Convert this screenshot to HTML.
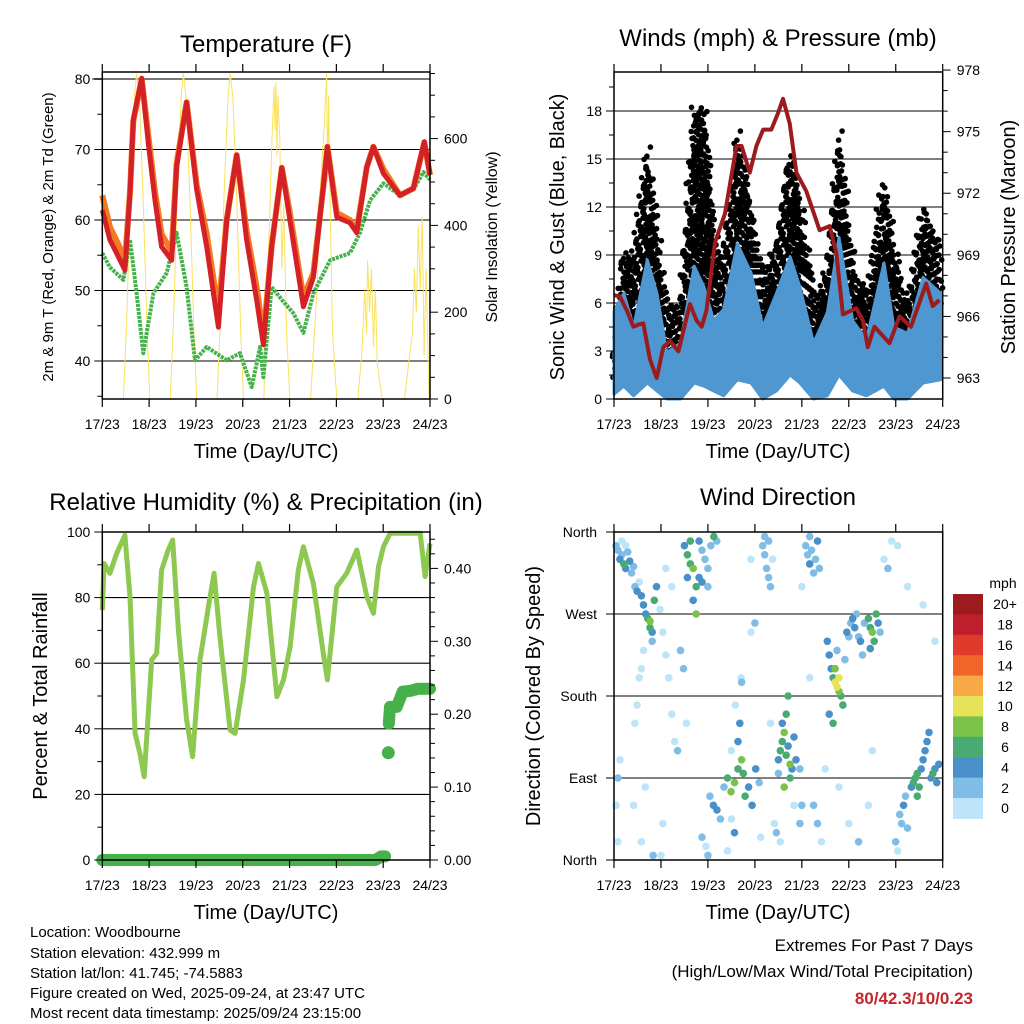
<!DOCTYPE html>
<html><head><meta charset="utf-8"><style>
html,body{margin:0;padding:0;background:#fff;}
svg{display:block;font-family:"Liberation Sans",Arial,sans-serif;}
</style></head><body>
<svg id="chart" width="1024" height="1024" viewBox="0 0 1024 1024" xmlns="http://www.w3.org/2000/svg">
<rect x="0" y="0" width="1024" height="1024" fill="#fff"/>
<text x="266" y="52" font-size="24" text-anchor="middle">Temperature (F)</text>
<text x="778" y="46" font-size="24" text-anchor="middle">Winds (mph) &amp; Pressure (mb)</text>
<text x="266" y="510" font-size="24" text-anchor="middle">Relative Humidity (%) &amp; Precipitation (in)</text>
<text x="778" y="505" font-size="24" text-anchor="middle">Wind Direction</text>
<text x="266" y="458" font-size="20" text-anchor="middle">Time (Day/UTC)</text>
<text x="778" y="458" font-size="20" text-anchor="middle">Time (Day/UTC)</text>
<text x="266" y="919" font-size="20" text-anchor="middle">Time (Day/UTC)</text>
<text x="778" y="919" font-size="20" text-anchor="middle">Time (Day/UTC)</text>
<text transform="translate(53,237) rotate(-90)" font-size="15" text-anchor="middle">2m &amp; 9m T (Red, Orange) &amp; 2m Td (Green)</text>
<text transform="translate(497,237) rotate(-90)" font-size="16" text-anchor="middle">Solar Insolation (Yellow)</text>
<text transform="translate(564,237) rotate(-90)" font-size="20" text-anchor="middle">Sonic Wind &amp; Gust (Blue, Black)</text>
<text transform="translate(1015,237) rotate(-90)" font-size="20" text-anchor="middle">Station Pressure (Maroon)</text>
<text transform="translate(47,696) rotate(-90)" font-size="20" text-anchor="middle">Percent &amp; Total Rainfall</text>
<text transform="translate(540,696) rotate(-90)" font-size="20" text-anchor="middle">Direction (Colored By Speed)</text>
<g font-size="15">
<text x="30" y="937">Location: Woodbourne</text>
<text x="30" y="958">Station elevation: 432.999 m</text>
<text x="30" y="978">Station lat/lon: 41.745; -74.5883</text>
<text x="30" y="998">Figure created on Wed, 2025-09-24, at 23:47 UTC</text>
<text x="30" y="1018">Most recent data timestamp: 2025/09/24 23:15:00</text>
</g>
<text x="973" y="951" font-size="17" text-anchor="end">Extremes For Past 7 Days</text>
<text x="973" y="977" font-size="17" text-anchor="end">(High/Low/Max Wind/Total Precipitation)</text>
<text x="973" y="1004" font-size="17" font-weight="bold" fill="#c1272d" text-anchor="end">80/42.3/10/0.23</text>
</svg>
<script>
// ---------- DATA ----------
const dayLabels = ['17/23','18/23','19/23','20/23','21/23','22/23','23/23','24/23'];
const tempHours = [0,3.9,9.1,11.6,14.2,15.9,20.2,23.6,27,30.4,35.6,38.1,43.2,48.4,53.5,59.5,63.8,68.9,74,79.1,82.6,86.8,92,96.2,103.1,108.2,113.3,115.4,120.2,127,130.4,135.6,139,144.1,152.6,159.5,165.1,168];
const temp2m = [61.4,57.2,54.3,52.9,63.8,74.2,80.1,70.9,62.8,56.2,54.3,67.5,76.7,64.3,56.2,44.8,60,69.2,57.2,48.7,42.3,56.2,67.4,60,47.7,51.9,64.7,70.4,60.4,59.6,58.2,67.5,70.4,66.6,63.5,64.5,71.1,66.4];
const temp9m = [63.5,59,56,54,64,74,80,72,64,58,55.5,68,76.7,65,58,47,60,69.2,58.5,50.5,43.5,56.2,67.4,61,49,52.5,64.7,70.4,61,60,58.5,67.5,70.4,67.2,63.5,64.5,71,66.4];
const dewHours = [0,3.9,10.8,14.2,17.6,21,26.2,33,38.1,43.2,47.5,53.5,63.8,70.6,76.6,80.9,82.6,86.8,92,97.9,103.1,108.2,116.8,127,132.1,137.3,144.1,152.6,159.5,164.6,168];
const dewpt = [55.3,53.3,51.5,57.2,49.6,41.1,49.6,52.5,58.2,50.5,40.1,42,40.1,41.1,36.3,42,37.7,50.5,48.7,46.8,44,49.6,54.3,55.3,58.2,62.8,65.2,63.5,64.3,66.8,65.7];
const solarHours = [10.8,12.5,14.5,16.5,17.6,19,21,23,24.4, 34.8,36.5,38.5,40.5,41.6,43,45,47,48.4, 58.8,60.5,62.5,64.5,65.6,67,69,71,72.4, 82.8,85,87,88,88.5,89,89.5,90,91,92,93,94.5,96.2, 106.8,110,112,114,115,115.5,116,117,118,120.2, 131,133,134.5,135.5,136,137,138,139,140,141,143.5, 155,157,159,160,161,162,163,164,165,166,167.5];
const solar = [0,180,480,700,750,690,450,150,0, 0,180,480,700,750,690,450,150,0, 0,180,480,700,750,690,450,150,0, 0,300,600,720,620,730,560,700,600,300,450,150,0, 0,250,500,650,750,500,700,400,150,0, 0,100,250,150,320,200,300,120,250,80,0, 0,80,150,300,200,400,250,420,100,300,0];

const windHours = [0,5,10,17,22,27,34,41,46,51,56,63,70,76,83,90,95,102,109,115,122,129,138,143,150,158,167];
const sustainedMax = [5.5,6.6,4.5,8.7,6.6,2.9,3.5,8.3,7,4.9,5.6,9.7,7.9,4.5,6.6,8.9,7,3.5,5.4,10.1,4.9,3.7,8.5,4.5,4.1,7.6,6.6];
const sustainedMin = [0.3,0.8,0.2,1,0.5,0,0,1,0.8,0.5,0.2,1.2,1,0,0.5,1.5,1,0,0.2,1.5,0.5,0.2,0.8,0,0,1,1.2];
const gustMax = [3.5,9,9.1,15.8,10.4,5.6,5.8,18,18.3,10.4,8.7,16.7,12,7.6,9.9,15.4,12.4,6.6,7.9,16.8,8.3,6.6,13.7,9.5,5.8,12,9.5];
const gustMin = [1.5,4,3,6,4,2,2,6,5,4,4,7,6,3,4,7,6,2,3,7,4,3,5,3,2,5,5];
const pressHours = [0,3.1,6.5,9.9,12.4,15,18.4,21.8,25.2,28.6,32.9,38.8,42.2,44.8,47.3,51.6,56.7,62.6,65.2,69.4,72.8,76.2,80.4,83.8,86.4,89.8,93.2,98.3,105.1,110.2,113.6,117,123.8,127.2,129.7,133.1,140.8,145.9,151.8,159.5,162.9,166.3];
const pressure = [967.04,966.96,966.3,965.5,965.6,965.66,963.9,963,964.5,964.8,964.3,966.6,965.8,965.5,966.3,969.6,971,974.3,974.3,973,974.3,975.1,975.1,975.9,976.6,975.4,973,972.1,970.2,970.4,969.1,966.1,966.4,965.8,964.5,965.5,964.7,966,965.5,967.6,966.5,966.8];

const rhHours = [0,0.9,3.9,7.4,11.6,14.2,16.8,19.3,21.5,25.3,27.9,30.4,33.8,36.1,39,43.2,46.3,50.1,54.4,57.3,60.3,65.5,68.1,72.4,77.5,80.1,84.4,89.5,92.9,96.3,100.5,103.1,108.2,113.3,115.4,120.2,125.3,130.5,135.6,139,141.6,144.1,147.6,163,165.5,168];
const rh = [76.2,90.4,87.4,93.5,99,80.3,38.6,32.5,25.4,61,63,88.4,94.5,97.6,70.1,42.7,31.5,61,77.2,87.4,68.1,39.6,38.6,54.9,83.3,90.4,81.3,49.8,54.9,65,88.4,95.5,84.3,63,54.9,83.3,87.4,94.5,80.3,75.2,89.4,95.5,99.6,99.6,86.4,96.5];
const precipHours = [0,140,143,145,146.6,146.6,146.7,146.9,147.5,151,154,158,162,166,170];
const precip = [0,0,0.005,0.005,null,0.147,null,0.187,0.21,0.21,0.231,0.232,0.235,0.235,0.235];

const dirHours = [1,2,3,4,5,6,7,8,9,10,6,4, 10.7,11.8,12.9,14,15.1,16.2,17.3,18.4,19.5,18.4,20.6,21.7,19.5,15.1,14,12.9,10.7,11.8, 36,37.5,39,40.5,42,43.5,43.5,45,46.5,48,49.5,51,52.5,37.5,40.5,42,39,45,48, 23.5,25,26.5,28,29.5,31,32.5,34,35.5,37,29.5,26.5, 49,50.8,52.6,54.4,56.2,58,59.8,61.6,63.4,65.2,66.1,67,68.8,70.6,63.4,64.3,65.2,72.4,74.2,45,47,61.6, 84,85,86,87,88,89,90,91,92,88,89,86,90,87,84,93,95,96,95,83, 76,77,78,79,80,77,79,81, 98,99,100,101,102,103,104,105,100, 109,110,111,112,113,114,115,116,117,115,113,114,110,112,118,119,120,121, 122,123,124,125,126,128,130,131,132,133,134,135,131,127,136, 146,147,148,149,150,152,153,154,155,156,157,158,159,160,161,162,163,164,165,166,155,144,145, 2,1,2,3,10,14,16,25,24,60,62,65,70,72,82,85,96,100,102,104,106,108,115,120,125,130,132,138,140,142,145,150,158,164,70,60,58,48,20,75,80,92];
const dirDeg = [345,340,330,335,325,320,338,328,315,322,345,350, 300,295,305,290,280,270,265,255,250,262,285,300,240,230,210,200,150,170, 345,335,325,320,300,310,350,340,330,320,345,355,350,310,285,270,350,305,300, 275,250,225,200,160,130,120,230,210,150,300,320, 70,60,55,45,80,90,75,85,100,110,95,70,80,60,130,150,195,100,85,25,15,30, 110,120,130,140,115,125,105,100,135,160,180,150,90,80,95,110,100,60,40,30, 345,335,320,310,300,355,350,330, 345,335,325,340,315,330,350,320,355, 240,225,210,200,195,190,185,180,170,200,210,230,160,150,220,250,245,260, 265,255,270,245,240,260,265,255,250,240,270,260,232,225,250, 50,40,60,70,35,80,85,90,95,80,100,110,120,130,140,90,95,100,85,105,70,20,10, 90,60,20,110,60,20,80,40,5,120,170,200,250,260,40,20,300,200,60,40,20,100,80,40,20,60,120,330,320,350,345,300,280,240,330,45,10,5,5,25,150,60];
const dirSpeed = [2,3,4,2,6,4,3,4,2,3,1,1, 2,4,1,4,4,4,6,6,4,8,6,4,3,1,1,1,1,1, 4,6,6,8,6,4,4,2,3,2,3,6,2,4,4,8,6,4,3, 1,1,1,1,1,1,2,3,2,1,1,1, 3,4,4,2,2,6,8,9,6,8,6,6,4,4,4,4,3,4,2,2,1,4, 4,6,6,8,6,4,8,4,4,6,6,4,6,8,3,4,2,2,2,2, 2,3,2,2,2,2,3,1, 2,3,4,3,2,2,4,2,2, 4,4,4,6,10,10,8,6,6,10,8,2,4,6,3,4,2,2, 4,4,2,2,4,2,6,6,8,6,6,4,4,2,3, 3,3,4,3,2,4,6,6,6,6,4,4,4,4,4,4,6,4,4,4,6,2,1, 2,1,1,1,1,1,1,1,1,1,1,1,1,2,1,1,1,1,2,2,1,1,1,1,2,1,1,1,2,1,1,1,1,1,1,1,1,2,2,1,1,1];

const speedBins = ['0','2','4','6','8','10','12','14','16','18','20+'];
const speedColors = ['#bde4f8','#7fbde6','#4a90c8','#4aab72','#7bc24b','#e6e25a','#f8a945','#f26529','#e03a2c','#bf1e2d','#9b1b1e'];

// ---------- HELPERS ----------
const NS = 'http://www.w3.org/2000/svg';
const svg = document.getElementById('chart');
function mk(tag, attrs, parent){ const e = document.createElementNS(NS, tag); for (const k in attrs) e.setAttribute(k, attrs[k]); (parent||svg).appendChild(e); return e; }
function pts(xs, ys, fx, fy){ const out=[]; for(let i=0;i<xs.length;i++){ if(ys[i]===null||ys[i]===undefined) continue; out.push(fx(xs[i]).toFixed(1)+','+fy(ys[i]).toFixed(1)); } return out.join(' '); }
function segs(xs, ys){ const res=[]; let cx=[],cy=[]; for(let i=0;i<xs.length;i++){ if(ys[i]===null){ if(cx.length) res.push([cx,cy]); cx=[];cy=[]; } else { cx.push(xs[i]); cy.push(ys[i]); } } if(cx.length) res.push([cx,cy]); return res; }

const L1 = 102.3, R1 = 430, L2 = 614, R2 = 942.7;
const xA = h => L1 + h/168*(R1-L1);
const xB = h => L2 + h/168*(R2-L2);
const yTemp = v => 79 + (80 - v)*7.05;
const ySolar = v => 399 - v*0.434;
const yWind = v => 399 - v*16;
const yPress = p => 378 - (p - 963)*20.53;
const yRH = v => 860 - v*3.28;
const yPrecip = v => 860 - v*729;
const yDir = d => 860 - d*328/360;

function frame(name, x0, y0, x1, y1){
  const g = mk('g', {});
  
  
  const r = mk('rect', {x:x0, y:y0, width:x1-x0, height:y1-y0, fill:'none', stroke:'#000', 'stroke-width':1.5}, g);
  
  
  return g;
}
function xAxis(name, fx, yTop, yBot){
  const g = mk('g', {});
  
  
  for (let i=0;i<dayLabels.length;i++){
    const x = fx(i*24);
    const t1 = mk('line', {x1:x, y1:yTop, x2:x, y2:yTop-8, stroke:'#000', 'stroke-width':1.2}, g);
    
    
    const t2 = mk('line', {x1:x, y1:yBot, x2:x, y2:yBot+8, stroke:'#000', 'stroke-width':1.2}, g);
    
    
    const lb = mk('text', {x:x, y:yBot+30, 'font-size':14, 'text-anchor':'middle'}, g);
    lb.textContent = dayLabels[i];
    
    
  }
}
function yTicks(name, fy, vals, labelEvery, side, xEdge, fmt){
  const g = mk('g', {});
  
  
  vals.forEach((v, i) => {
    const y = fy(v);
    const major = labelEvery(v);
    const len = major ? 8 : 5;
    const dx = side === 'left' ? -len : len;
    const t = mk('line', {x1:xEdge, y1:y, x2:xEdge+dx, y2:y, stroke:'#000', 'stroke-width':1}, g);
    
    
    if (major){
      const lb = mk('text', {x: side==='left' ? xEdge-12 : xEdge+14, y:y+5, 'font-size':14, 'text-anchor': side==='left' ? 'end' : 'start'}, g);
      lb.textContent = fmt(v);
      
      
    }
  });
}
function gridLines(name, fy, vals, x0, x1){
  const g = mk('g', {});
  
  
  vals.forEach(v => {
    const l = mk('line', {x1:x0, y1:fy(v), x2:x1, y2:fy(v), stroke:'#000', 'stroke-width':1.1}, g);
    
    
  });
}
function range(a,b,s){ const o=[]; for(let v=a; v<=b+1e-9; v+=s) o.push(Math.round(v*1000)/1000); return o; }

// ---------- PANEL 1: TEMPERATURE ----------
gridLines('temp-grid', yTemp, [70,60,50,40], L1, R1);
const g80 = mk('line', {x1:L1-10, y1:yTemp(80), x2:R1, y2:yTemp(80), stroke:'#777', 'stroke-width':2});


const solarLine = mk('polyline', {points: pts(solarHours, solar, xA, ySolar), fill:'none', stroke:'#f9e25c', 'stroke-width':1});


const dewLine = mk('polyline', {points: pts(dewHours, dewpt, xA, yTemp), fill:'none', stroke:'#46b04a', 'stroke-width':4, 'stroke-linejoin':'round', 'stroke-dasharray':'3 1'});


const t9 = mk('polyline', {points: pts(tempHours, temp9m, xA, yTemp), fill:'none', stroke:'#f47a20', 'stroke-width':6, 'stroke-linejoin':'round'});


const t2 = mk('polyline', {points: pts(tempHours, temp2m, xA, yTemp), fill:'none', stroke:'#d42027', 'stroke-width':5, 'stroke-linejoin':'round'});


frame('temp-plot-frame', L1, 72, R1, 399);
xAxis('temp-x-axis', xA, 72, 399);
yTicks('temp-y-axis', yTemp, range(35,80,5), v => v%10===0, 'left', L1, v => String(v));
yTicks('solar-y-axis', ySolar, range(0,750,50), v => v%200===0, 'right', R1, v => String(v));

// ---------- PANEL 2: WINDS ----------
gridLines('wind-grid', yWind, [3,6,9,12,15,18], L2, R2);
const gustGroup = mk('g', {fill:'#000'});


const jit = [0,-2.5,1.8,-1,2.9,-3,0.8,-1.9,2.2,-0.4,1.2,-2.7,3.1];
for (let i=0;i<windHours.length-1;i++){
  const span = windHours[i+1]-windHours[i];
  const n = Math.max(3, Math.round(span*1.6));
  for (let k=0;k<n;k++){
    const f = k/n;
    const h = windHours[i] + span*f;
    const hi = gustMax[i] + (gustMax[i+1]-gustMax[i])*f;
    const lo = gustMin[i] + (gustMin[i+1]-gustMin[i])*f;
    let j = 0;
    for (let v=lo; v<=hi; v+=0.6){
      j++;
      const off = jit[(k*5 + j*3) % jit.length];
      const voff = jit[(k*3 + j*7) % jit.length]*0.08;
      const c = mk('circle', {cx:(xB(h)+off).toFixed(1), cy:yWind(v+voff).toFixed(1), r:2.8}, gustGroup);
      
      
    }
  }
}
const bandPts = pts(windHours, sustainedMax, xB, yWind) + ' ' + pts(windHours.slice().reverse(), sustainedMin.slice().reverse(), xB, yWind);
const band = mk('polygon', {points: bandPts, fill:'#4f97d1', stroke:'#4f97d1', 'stroke-width':3, 'stroke-linejoin':'round'});


const pLine = mk('polyline', {points: pts(pressHours, pressure, xB, yPress), fill:'none', stroke:'#9b1b1e', 'stroke-width':4, 'stroke-linejoin':'round'});


frame('wind-plot-frame', L2, 72, R2, 399);
xAxis('wind-x-axis', xB, 72, 399);
yTicks('wind-y-axis', yWind, range(0,19.5,1.5), v => v%3===0, 'left', L2, v => String(v));
yTicks('pressure-y-axis', yPress, range(963,978,1), v => v%3===0, 'right', R2, v => String(v));

// ---------- PANEL 3: RH & PRECIP ----------
gridLines('rh-grid', yRH, [20,40,60,80], L1, R1);
const rhLine = mk('polyline', {points: pts(rhHours, rh, xA, yRH), fill:'none', stroke:'#8dc851', 'stroke-width':5, 'stroke-linejoin':'round'});


segs(precipHours, precip).forEach(s => {
  if (s[0].length === 1){
    const dot = mk('circle', {cx:xA(s[0][0]).toFixed(1), cy:yPrecip(s[1][0]).toFixed(1), r:6.5, fill:'#46b04a'});
    
    
    return;
  }
  const seg = mk('polyline', {points: pts(s[0], s[1], h => xA(Math.min(h,168)), yPrecip), fill:'none', stroke:'#46b04a', 'stroke-width':12, 'stroke-linecap':'round', 'stroke-linejoin':'round'});
  
  
});
frame('rh-plot-frame', L1, 532, R1, 860);
xAxis('rh-x-axis', xA, 532, 860);
yTicks('rh-y-axis', yRH, range(0,100,10), v => v%20===0, 'left', L1, v => String(v));
yTicks('precip-y-axis', yPrecip, range(0,0.44,0.02), v => Math.abs(v*10-Math.round(v*10))<1e-6, 'right', R1, v => v.toFixed(2));

// ---------- PANEL 4: WIND DIRECTION ----------
gridLines('dir-grid', yDir, [90,180,270], L2, R2);
const dirGroup = mk('g', {});


const order = dirSpeed.map((s,i)=>i).sort((a,b)=>dirSpeed[a]-dirSpeed[b]);
order.forEach(i => {
  const bin = Math.min(10, Math.floor(dirSpeed[i]/2));
  const c = mk('circle', {cx:xB(dirHours[i]).toFixed(1), cy:yDir(dirDeg[i]).toFixed(1), r:3.8, fill:speedColors[bin]}, dirGroup);
  
  
});
frame('dir-plot-frame', L2, 532, R2, 860);
xAxis('dir-x-axis', xB, 532, 860);
const dirNames = ['North','East','South','West','North'];
const dirVals = [0,90,180,270,360];
const dg = mk('g', {});


dirVals.forEach((d,i) => {
  const tk = mk('line', {x1:L2, y1:yDir(d), x2:L2-8, y2:yDir(d), stroke:'#000'}, dg);
  
  
  const lb = mk('text', {x:L2-17, y:yDir(d)+5, 'font-size':14, 'text-anchor':'end'}, dg);
  lb.textContent = dirNames[i];
  
  
});

const cb = mk('g', {});


const cbTop = 594, cbH = 20.4;
const mph = mk('text', {x:1003, y:588, 'font-size':14, 'text-anchor':'middle'}, cb);
mph.textContent = 'mph';


for (let i=0;i<speedBins.length;i++){
  const idx = speedBins.length-1-i;
  const r = mk('rect', {x:953, y:(cbTop+i*cbH).toFixed(1), width:30, height:cbH+0.5, fill:speedColors[idx]}, cb);
  
  
  const lb = mk('text', {x:1005, y:(cbTop+i*cbH+cbH/2+5).toFixed(1), 'font-size':14, 'text-anchor':'middle'}, cb);
  lb.textContent = speedBins[idx];
  
  
}
</script>
</body></html>
